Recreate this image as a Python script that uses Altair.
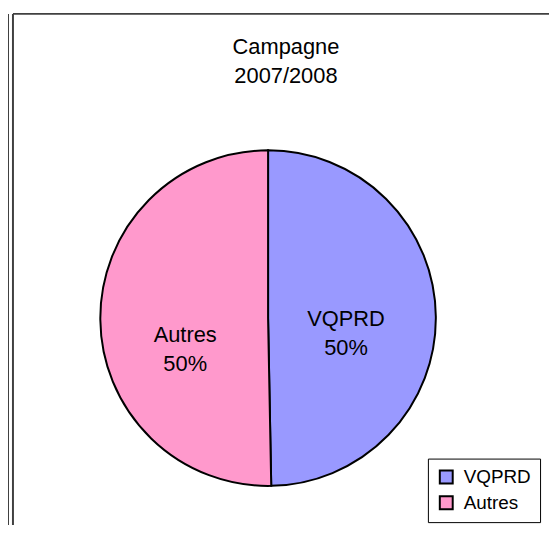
import altair as alt
import pandas as pd

CATEGORIES = ["VQPRD", "Autres"]
SHARES = [49.7, 50.3]
COLORS = ["#9999FF", "#FF99CC"]
TITLE_LINES = ["Campagne", "2007/2008"]

df = pd.DataFrame({"category": CATEGORIES, "value": SHARES, "idx": list(range(len(CATEGORIES)))})
title_df = pd.DataFrame({"t": ["\n".join(TITLE_LINES)]})

FONT = "Liberation Sans"
W, H = 545, 519
CX, CY, R = 262, 310.5, 169

theta_scale = alt.Scale(domain=[0, 1], nice=False, zero=True)

base = (
    alt.Chart(df)
    .transform_joinaggregate(total="sum(value)")
    .transform_window(cum="sum(value)", sort=[alt.SortField("idx")], frame=[None, 0])
    .transform_calculate(
        end="datum.cum / datum.total",
        start="(datum.cum - datum.value) / datum.total",
        mid="(datum.cum - datum.value / 2) / datum.total",
        label="datum.category + '\\n' + format(datum.value / datum.total, '.0%')",
    )
)

pie = base.mark_arc(outerRadius=R, stroke="black", strokeWidth=2).encode(
    theta=alt.Theta("start:Q", scale=theta_scale),
    theta2="end:Q",
    color=alt.Color(
        "category:N",
        scale=alt.Scale(domain=CATEGORIES, range=COLORS),
        sort=CATEGORIES,
        legend=alt.Legend(
            title=None,
            orient="none",
            legendX=423,
            legendY=452,
            symbolType="square",
            symbolSize=169,
            symbolStrokeColor="black",
            symbolStrokeWidth=2,
            symbolOpacity=1,
            labelFont=FONT,
            labelFontSize=19,
            labelColor="black",
            labelOffset=8,
            rowPadding=5,
            padding=9,
            fillColor="white",
            strokeColor="black",
        ),
    ),
    x=alt.value(CX),
    y=alt.value(CY),
)

def label_layer(cat, radius, dy):
    return (
        base.transform_filter(alt.datum.category == cat)
        .mark_text(radius=radius, dy=dy, font=FONT, fontSize=22, lineBreak="\n",
                   lineHeight=29, baseline="alphabetic", align="center", color="black")
        .encode(theta=alt.Theta("mid:Q", scale=theta_scale), text="label:N",
                x=alt.value(CX), y=alt.value(CY))
    )

lab1 = label_layer(CATEGORIES[0], 78.5, 9)
lab2 = label_layer(CATEGORIES[1], 83.5, 23)

title = alt.Chart(title_df).mark_text(
    font=FONT, fontSize=22, lineBreak="\n", lineHeight=30, baseline="alphabetic",
    align="center", color="black"
).encode(text="t:N", x=alt.value(280), y=alt.value(44))

frame_col = "#404040"
top_line = alt.Chart(title_df).mark_rule(color=frame_col, strokeWidth=2).encode(
    x=alt.value(5), x2=alt.value(W), y=alt.value(4), y2=alt.value(4))
left_line = alt.Chart(title_df).mark_rule(color=frame_col, strokeWidth=2).encode(
    x=alt.value(5), x2=alt.value(5), y=alt.value(4), y2=alt.value(H))
prev_line = alt.Chart(title_df).mark_rule(color=frame_col, strokeWidth=2).encode(
    x=alt.value(0), x2=alt.value(0), y=alt.value(4), y2=alt.value(H))

chart = (
    alt.layer(pie, lab1, lab2, title, top_line, left_line, prev_line)
    .properties(width=W, height=H, padding=0, autosize=alt.AutoSizeParams(type="none"),
                background="white")
    .configure_view(stroke=None)
)

chart.save("out.html", embed_options={"renderer": "svg", "actions": False})
